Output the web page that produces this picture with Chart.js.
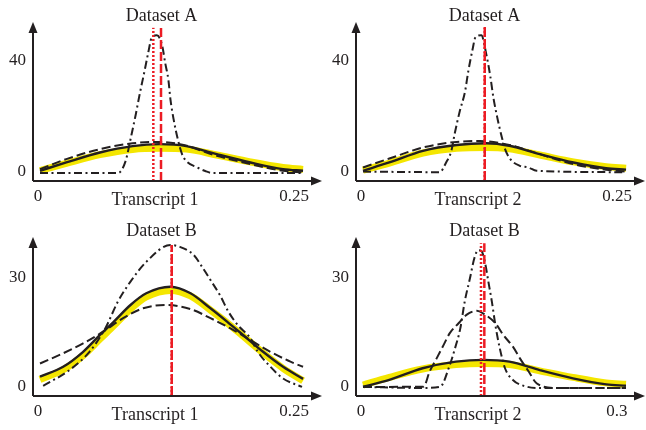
<!DOCTYPE html>
<html>
<head>
<meta charset="utf-8">
<script src="https://cdn.jsdelivr.net/npm/chart.js@4.4.1/dist/chart.umd.min.js"></script>
<style>
  html, body { margin: 0; padding: 0; background: #fff; }
  #wrap { position: relative; width: 646px; height: 430px; }
  #wrap canvas { position: absolute; }
</style>
</head>
<body>
<div id="wrap">
  <canvas id="c1" width="323" height="215" style="left:0;top:0"></canvas>
  <canvas id="c2" width="323" height="215" style="left:323px;top:0"></canvas>
  <canvas id="c3" width="323" height="215" style="left:0;top:215px"></canvas>
  <canvas id="c4" width="323" height="215" style="left:323px;top:215px"></canvas>
</div>
<script>
// panel titles / axis names / tick labels
const titles = ['Dataset A', 'Dataset A', 'Dataset B', 'Dataset B'];
const xNames = ['Transcript 1', 'Transcript 2', 'Transcript 1', 'Transcript 2'];
const xTicksA = [0, 0.25];
const xTicksB = [0, 0.3];
const yTicksA = [0, 40];
const yTicksB = [0, 30];

// curves as [x, density] pairs
// panel 1 : Dataset A, Transcript 1
const p1Solid = [[0,0.8],[0.025,3.8],[0.057,7.4],[0.088,9.7],[0.114,10.4],[0.139,9.7],[0.168,6.8],[0.2,3.8],[0.231,1.4],[0.25,0.8]];
const p1Yellow = [[0,0.9],[0.025,3.5],[0.057,6.6],[0.088,8.5],[0.114,8.9],[0.139,8.6],[0.168,6.5],[0.2,4.0],[0.231,2.0],[0.25,1.3]];
const p1Dashed = [[0,1.4],[0.025,5.0],[0.057,8.6],[0.088,10.7],[0.107,11.2],[0.133,10.4],[0.168,6.2],[0.2,3.2],[0.231,0.8],[0.25,0.2]];
const p1DashDot = [[0,0],[0.074,0],[0.081,3.9],[0.087,13.9],[0.091,21.1],[0.095,28.9],[0.099,36.1],[0.103,43.6],[0.106,48.6],[0.111,49.6],[0.116,46.1],[0.119,39.6],[0.122,33.6],[0.124,26.4],[0.127,19.3],[0.131,12.1],[0.135,6.8],[0.139,4.3],[0.149,2.1],[0.157,0.7],[0.164,0],[0.25,0]];
const p1Marks = [0.1077, 0.115];   // dotted, dashed red lines
const p1MarkTop = 52.3;

// panel 2 : Dataset A, Transcript 2
const p2Solid = [[0,0.8],[0.025,3.8],[0.057,8.0],[0.089,10.1],[0.117,10.7],[0.139,9.8],[0.168,6.8],[0.2,3.8],[0.231,1.7],[0.25,1.2]];
const p2Yellow = [[0,1.0],[0.025,3.6],[0.057,7.2],[0.089,8.9],[0.117,9.2],[0.139,8.7],[0.168,6.5],[0.2,4.0],[0.231,2.3],[0.25,1.7]];
const p2Dashed = [[0,2.0],[0.025,5.2],[0.057,9.2],[0.089,11.2],[0.111,11.5],[0.139,10.1],[0.168,6.8],[0.2,3.2],[0.231,1.2],[0.25,0.5]];
const p2DashDot = [[0,0.5],[0.073,0.3],[0.079,3.8],[0.084,8.0],[0.087,13.9],[0.092,22.3],[0.097,29.4],[0.100,36.5],[0.104,44.3],[0.107,49.0],[0.1125,49.6],[0.117,43.1],[0.121,34.8],[0.124,27.0],[0.128,19.3],[0.132,12.8],[0.135,8.6],[0.140,5.0],[0.149,2.6],[0.157,2.0],[0.165,0.8],[0.247,0.3]];
const p2Marks = [0.1157, 0.1157];
const p2MarkTop = 52.7;

// panel 3 : Dataset B, Transcript 1
const p3Solid = [[0,3.1],[0.022,5.8],[0.041,9.9],[0.057,14.5],[0.07,18.1],[0.086,22.7],[0.101,25.9],[0.124,27.7],[0.143,25.9],[0.162,21.8],[0.178,18.1],[0.193,14.5],[0.212,9.9],[0.231,5.8],[0.25,2.5]];
const p3Yellow = [[0,2.3],[0.022,5.0],[0.041,8.9],[0.057,13.4],[0.07,17.0],[0.086,21.6],[0.101,24.9],[0.124,26.7],[0.143,25.2],[0.162,21.3],[0.178,17.8],[0.193,14.2],[0.212,9.6],[0.231,5.4],[0.25,2.0]];
const p3Dashed = [[0,6.7],[0.022,9.5],[0.041,12.2],[0.06,15.4],[0.079,19.1],[0.098,21.8],[0.12,22.7],[0.143,21.6],[0.162,19.1],[0.181,16.3],[0.2,13.1],[0.219,9.9],[0.238,7.2],[0.25,5.8]];
const p3DashDot = [[0.003,0.6],[0.028,4.9],[0.047,9.9],[0.062,16.3],[0.074,23.6],[0.086,29.1],[0.101,34.5],[0.124,39.1],[0.133,38.6],[0.146,36.4],[0.155,32.7],[0.163,29.1],[0.171,25.4],[0.179,20.9],[0.188,17.2],[0.2,13.6],[0.207,9.9],[0.219,5.8],[0.231,2.6],[0.249,0.3]];
const p3Marks = [0.1252, 0.1252];
const p3MarkTop = 39.1;

// panel 4 : Dataset B, Transcript 2
const p4Solid = [[0,0.35],[0.03,2.2],[0.068,5.4],[0.106,7.2],[0.137,7.7],[0.167,7.2],[0.2015,4.9],[0.2395,2.65],[0.2775,1.0],[0.3,0.6]];
const p4Yellow = [[0,0.8],[0.03,2.9],[0.068,5.2],[0.106,6.4],[0.137,6.7],[0.167,6.4],[0.2015,4.7],[0.2395,2.9],[0.2775,1.4],[0.3,1.0]];
const p4Dashed = [[0,0.3],[0.069,0.35],[0.076,4.5],[0.084,8.1],[0.092,11.8],[0.099,15],[0.109,17.7],[0.118,20],[0.13,21.1],[0.137,20.4],[0.151,17.7],[0.16,14.5],[0.171,11.3],[0.179,8.1],[0.189,4.5],[0.198,1.3],[0.22,0],[0.3,0]];
const p4DashDot = [[0,0.3],[0.068,0],[0.088,0.35],[0.099,6.3],[0.105,10.9],[0.111,16.3],[0.116,23.6],[0.122,30],[0.127,35.5],[0.1315,37.7],[0.135,37.5],[0.139,34.5],[0.143,29.1],[0.147,23.6],[0.151,17.2],[0.156,10.9],[0.162,5.4],[0.171,2.2],[0.187,0.35],[0.202,0],[0.3,0]];
const p4Marks = [0.1346, 0.1384];
const p4MarkTop = 39.6;

const FONT = "'Liberation Serif', 'DejaVu Serif', serif";
const INK = '#231f20';
const RED = '#ec1c24';
const YELLOW = '#f4e600';

function curve(points, color, width, dash) {
  return {
    data: points.map(p => ({ x: p[0], y: p[1] })),
    borderColor: color,
    borderWidth: width,
    borderDash: dash,
    pointRadius: 0,
    fill: false,
    cubicInterpolationMode: 'monotone'
  };
}

function marker(x, y0, y1, dash, width) {
  return {
    data: [{ x: x, y: y0 }, { x: x, y: y1 }],
    borderColor: RED,
    borderWidth: width,
    borderDash: dash,
    pointRadius: 0,
    fill: false
  };
}

// arrows, title, tick labels and axis name
const arrowAxes = {
  id: 'arrowAxes',
  afterDraw(chart, args, opts) {
    const { ctx, chartArea: a, scales } = chart;
    ctx.save();
    ctx.strokeStyle = INK;
    ctx.fillStyle = INK;
    ctx.lineWidth = 2;
    ctx.beginPath();
    ctx.moveTo(a.left, a.bottom);
    ctx.lineTo(a.left, a.top + 8);
    ctx.moveTo(a.left, a.bottom);
    ctx.lineTo(a.right - 8, a.bottom);
    ctx.stroke();
    ctx.beginPath();
    ctx.moveTo(a.left, a.top);
    ctx.lineTo(a.left - 4.5, a.top + 11);
    ctx.lineTo(a.left + 4.5, a.top + 11);
    ctx.closePath();
    ctx.fill();
    ctx.beginPath();
    ctx.moveTo(a.right, a.bottom);
    ctx.lineTo(a.right - 11, a.bottom - 4.5);
    ctx.lineTo(a.right - 11, a.bottom + 4.5);
    ctx.closePath();
    ctx.fill();

    ctx.textAlign = 'center';
    ctx.textBaseline = 'alphabetic';
    ctx.font = '18px ' + FONT;
    ctx.fillText(opts.title, chart.width / 2, 21);
    ctx.fillText(opts.xName, 155, 205);

    ctx.font = '17px ' + FONT;
    opts.xTicks.forEach((v, i) => {
      const px = scales.x.getPixelForValue(v);
      const shift = i === opts.xTicks.length - 1 ? -9 : -2;
      ctx.fillText(String(v), px + shift, 201);
    });

    ctx.textAlign = 'right';
    ctx.textBaseline = 'middle';
    opts.yTicks.forEach(v => {
      ctx.fillText(String(v), a.left - 7, scales.y.getPixelForValue(v) - 1);
    });
    ctx.restore();
  }
};

function makePanel(id, i, series, marks, markTop, xr, yr, xTicks, yTicks) {
  const datasets = [
    marker(marks[0], yr[0], markTop, [2, 2], 2.5),
    marker(marks[1], yr[0], markTop, [9, 3], 2.5),
    curve(series.dashDot, INK, 2, [8, 3.5, 2, 3.5]),
    curve(series.dashed, INK, 2, [9, 4]),
    curve(series.solid, INK, 2.4, []),
    curve(series.yellow, YELLOW, 7, [])
  ];
  new Chart(document.getElementById(id), {
    type: 'line',
    data: { datasets },
    options: {
      responsive: false,
      animation: false,
      layout: { padding: { left: 33, top: 22, right: 1, bottom: 34 } },
      scales: {
        x: { type: 'linear', display: false, min: xr[0], max: xr[1] },
        y: { type: 'linear', display: false, min: yr[0], max: yr[1] }
      },
      plugins: {
        legend: { display: false },
        tooltip: { enabled: false },
        arrowAxes: { title: titles[i], xName: xNames[i], xTicks, yTicks }
      }
    },
    plugins: [arrowAxes]
  });
}

makePanel('c1', 0, { solid: p1Solid, yellow: p1Yellow, dashed: p1Dashed, dashDot: p1DashDot },
  p1Marks, p1MarkTop, [-0.00665, 0.268], [-2.88, 54.4], xTicksA, yTicksA);
makePanel('c2', 1, { solid: p2Solid, yellow: p2Yellow, dashed: p2Dashed, dashDot: p2DashDot },
  p2Marks, p2MarkTop, [-0.00665, 0.268], [-2.88, 54.4], xTicksA, yTicksA);
makePanel('c3', 2, { solid: p3Solid, yellow: p3Yellow, dashed: p3Dashed, dashDot: p3DashDot },
  p3Marks, p3MarkTop, [-0.00665, 0.268], [-2.19, 41.3], xTicksA, yTicksB);
makePanel('c4', 3, { solid: p4Solid, yellow: p4Yellow, dashed: p4Dashed, dashDot: p4DashDot },
  p4Marks, p4MarkTop, [-0.008, 0.3217], [-2.19, 41.3], xTicksB, yTicksB);
</script>
</body>
</html>
